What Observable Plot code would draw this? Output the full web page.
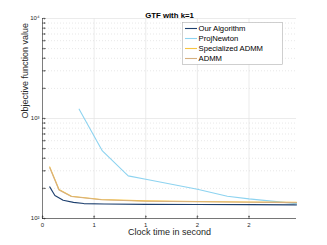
<!DOCTYPE html>
<html><head><meta charset="utf-8">
<script src="https://cdn.jsdelivr.net/npm/d3@7"></script>
<script src="https://cdn.jsdelivr.net/npm/@observablehq/plot@0.6"></script>
<style>body{margin:0;background:#fff}</style>
</head><body><div id="chart"></div>
<script>
const seriesNames = ["Our Algorithm", "ProjNewton", "Specialized ADMM", "ADMM"];
const seriesColors = ["#1d3f6e", "#8dd3f0", "#f8c43f", "#d6b07f"];
const ourX = [0.07, 0.12, 0.2, 0.3, 0.4, 0.6, 1.0, 1.5, 2.0, 2.46];
const ourY = [207, 170, 152, 145, 141, 139.5, 138.5, 138, 137.5, 137];
const projX = [0.355, 0.58, 0.83, 1.0, 1.5, 1.79, 2.0, 2.46];
const projY = [1240, 474, 267, 247, 196, 167, 157, 141];
const sadmmX = [0.07, 0.16, 0.28, 0.57, 1.0, 1.5, 2.0, 2.46];
const sadmmY = [328, 195, 167, 155, 150, 148, 146, 145];
const admmX = [0.07, 0.16, 0.28, 0.57, 1.0, 1.5, 2.0, 2.46];
const admmY = [322, 193, 166, 154, 149, 147, 145.5, 144];
const xTicks = [0, 0.5, 1, 1.5, 2];
const yMajor = [100, 1000, 10000];
const yMinor = [200,300,400,500,600,700,800,900,2000,3000,4000,5000,6000,7000,8000,9000];
const yLabels = {100: "10²", 1000: "10³", 10000: "10⁴"};

const mk = (xs, ys, name) => xs.map((x, i) => ({x, y: ys[i], name}));
const data = [
  ...mk(ourX, ourY, seriesNames[0]),
  ...mk(projX, projY, seriesNames[1]),
  ...mk(sadmmX, sadmmY, seriesNames[2]),
  ...mk(admmX, admmY, seriesNames[3])
];
const axisColor = "#262626";
const font = "Liberation Sans, Arial, sans-serif";

const chart = Plot.plot({
  width: 327, height: 245,
  marginLeft: 42, marginRight: 31, marginTop: 18, marginBottom: 27,
  style: {fontFamily: font, background: "#fff"},
  x: {domain: [0, 2.46]},
  y: {type: "log", domain: [100, 10000]},
  color: {domain: seriesNames, range: seriesColors},
  marks: [
    Plot.ruleX(xTicks.slice(1), {stroke: "#e3e3e3", strokeWidth: 0.7}),
    Plot.ruleY(yMajor, {stroke: "#e3e3e3", strokeWidth: 0.7}),
    Plot.ruleY(yMinor, {stroke: "#d8d8d8", strokeWidth: 0.6, strokeDasharray: "1,2"}),
    Plot.line(data, {x: "x", y: "y", z: "name", stroke: "name", strokeWidth: 1.1}),
    Plot.ruleX([0], {stroke: axisColor, strokeWidth: 0.6}),
    Plot.ruleY([100], {stroke: axisColor, strokeWidth: 0.6}),
    Plot.vector(xTicks, {x: d => d, y: 100, length: 2.5, anchor: "start", rotate: 0, stroke: axisColor, strokeWidth: 0.6}),
    Plot.vector([...yMajor, ...yMinor], {x: 0, y: d => d, length: 2.5, anchor: "start", rotate: 90, stroke: axisColor, strokeWidth: 0.6}),
    Plot.axisX(xTicks, {tickSize: 0, tickPadding: 4, fontSize: 6, color: axisColor, label: null}),
    Plot.axisY(yMajor, {tickSize: 0, tickPadding: 3, fontSize: 6, color: axisColor, label: null, tickFormat: d => yLabels[d]}),
    Plot.text(["Clock time in second"], {frameAnchor: "bottom", dy: 16, fontSize: 9, fill: axisColor}),
    Plot.text(["Objective function value"], {frameAnchor: "left", dx: -17, rotate: -90, fontSize: 9, fill: axisColor}),
    Plot.text(["GTF with k=1"], {frameAnchor: "top", dy: -6, fontSize: 7.8, fontWeight: "bold", fill: "#000"})
  ]
});
document.getElementById("chart").appendChild(chart);

// legend
const svg = d3.select(chart);
const lg = svg.append("g").attr("transform", "translate(182.5,22.5)");
lg.append("rect").attr("width", 100).attr("height", 42).attr("fill", "#fff").attr("stroke", "#b0b0b0").attr("stroke-width", 0.6);
seriesNames.forEach((n, i) => {
  const yy = 6 + i * 10;
  lg.append("line").attr("x1", 2.5).attr("x2", 14.5).attr("y1", yy).attr("y2", yy)
    .attr("stroke", seriesColors[i]).attr("stroke-width", 1.1);
  lg.append("text").attr("x", 16).attr("y", yy).attr("dy", "0.35em")
    .attr("text-anchor", "start")
    .attr("font-size", 7.7).attr("font-family", font).attr("fill", "#000").text(n);
});
</script></body></html>
